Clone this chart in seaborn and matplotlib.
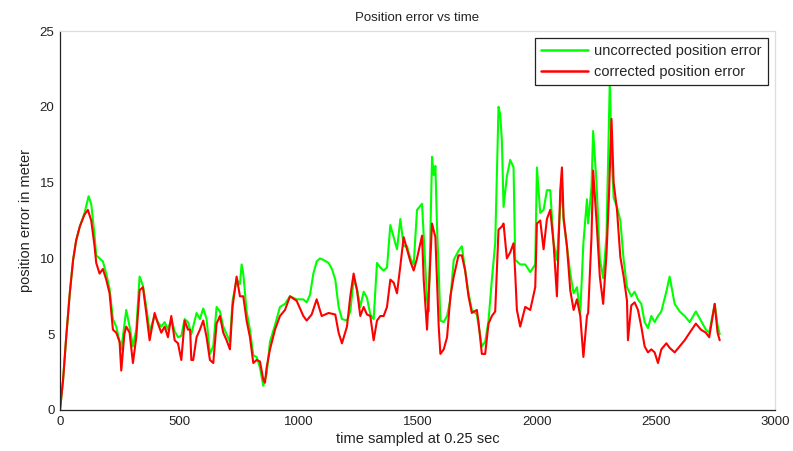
import matplotlib
matplotlib.use("Agg")
import matplotlib.pyplot as plt
import seaborn as sns
import pandas as pd

# ---- data ----
t_uncorrected = [0, 13, 26, 41, 55, 68, 83, 103, 120, 131, 145, 152, 166, 180, 194, 208, 222, 236, 257,
                 278, 292, 306, 320, 334, 348, 362, 376, 397, 411, 425, 439, 453, 467, 481, 495, 509, 523,
                 537, 551, 559, 573, 587, 601, 615, 629, 643, 657, 671, 685, 699, 713, 724, 741, 755, 762,
                 769, 783, 797, 811, 825, 839, 853, 867, 881, 902, 923, 944, 965, 993, 1021, 1035, 1049,
                 1063, 1077, 1091, 1105, 1127, 1141, 1155, 1169, 1183, 1204, 1218, 1232, 1246, 1260, 1274,
                 1288, 1302, 1316, 1330, 1344, 1358, 1372, 1386, 1400, 1414, 1428, 1442, 1456, 1470, 1484,
                 1498, 1519, 1526, 1540, 1547, 1561, 1568, 1575, 1582, 1589, 1596, 1610, 1624, 1638, 1652,
                 1672, 1686, 1700, 1714, 1728, 1749, 1770, 1784, 1798, 1812, 1826, 1840, 1847, 1854, 1861,
                 1875, 1889, 1903, 1910, 1931, 1952, 1973, 1994, 2001, 2015, 2029, 2043, 2057, 2071, 2085,
                 2099, 2106, 2113, 2127, 2141, 2155, 2169, 2183, 2196, 2211, 2216, 2230, 2237, 2251, 2265,
                 2279, 2293, 2307, 2314, 2323, 2337, 2351, 2365, 2379, 2397, 2411, 2425, 2439, 2453, 2467,
                 2481, 2495, 2509, 2523, 2544, 2558, 2579, 2600, 2621, 2642, 2668, 2689, 2710, 2724, 2747,
                 2759, 2768]
uncorrected = [0, 2.0, 4.8, 7.7, 9.9, 11.2, 12.1, 13.0, 14.1, 13.6, 11.5, 10.2, 10.0, 9.8, 9.0, 8.0, 6.0,
               5.5, 4.0, 6.6, 5.5, 4.2, 5.3, 8.8, 8.2, 6.8, 5.2, 6.2, 5.8, 5.5, 5.8, 5.3, 6.0, 5.2, 4.8,
               4.9, 6.0, 5.8, 5.0, 5.5, 6.4, 6.0, 6.7, 6.0, 3.7, 4.2, 6.8, 6.5, 5.5, 5.0, 4.5, 7.2, 8.6,
               8.3, 9.6, 9.0, 6.5, 5.3, 3.6, 3.5, 2.8, 1.6, 2.4, 4.5, 5.6, 6.8, 7.0, 7.5, 7.3, 7.3, 7.1,
               7.6, 9.0, 9.8, 10.0, 9.9, 9.7, 9.3, 8.6, 6.8, 6.0, 5.9, 6.5, 8.6, 8.0, 6.8, 7.8, 7.4, 6.3,
               6.0, 9.7, 9.4, 9.2, 9.4, 12.2, 11.4, 10.6, 12.6, 10.8, 10.8, 10.0, 9.6, 13.2, 13.6, 11.5,
               7.3, 6.5, 16.7, 15.5, 16.1, 12.0, 9.2, 5.9, 5.8, 6.2, 7.3, 9.9, 10.5, 10.8, 9.2, 7.7, 6.6,
               6.3, 4.2, 4.5, 5.9, 8.6, 11.0, 20.0, 19.5, 17.8, 13.4, 15.4, 16.5, 16.0, 9.9, 9.6, 9.6,
               9.1, 9.6, 16.0, 13.0, 13.2, 14.5, 14.5, 11.0, 9.9, 13.5, 14.8, 12.5, 10.8, 9.0, 7.7, 8.1,
               6.4, 11.0, 13.9, 12.3, 14.7, 18.4, 15.0, 10.0, 8.7, 11.5, 21.8, 17.0, 14.0, 13.4, 12.5,
               9.9, 8.1, 7.5, 7.8, 7.3, 7.0, 5.8, 5.4, 6.2, 5.8, 6.2, 6.5, 7.8, 8.8, 7.0, 6.5, 6.2, 5.8,
               6.5, 5.9, 5.3, 5.1, 7.0, 5.6, 5.0]

t_corrected = [0, 13, 26, 41, 55, 68, 83, 103, 117, 131, 145, 152, 166, 180, 194, 208, 222, 236, 250,
               257, 270, 278, 292, 306, 320, 334, 348, 362, 376, 397, 411, 425, 439, 453, 467, 481, 495,
               509, 523, 537, 546, 551, 559, 573, 587, 601, 615, 629, 643, 657, 671, 685, 699, 713, 724,
               741, 755, 769, 783, 797, 811, 825, 839, 853, 860, 867, 881, 902, 923, 944, 965, 993, 1021,
               1035, 1056, 1077, 1098, 1127, 1155, 1169, 1183, 1204, 1218, 1232, 1246, 1260, 1274, 1288,
               1302, 1316, 1330, 1344, 1358, 1372, 1386, 1400, 1414, 1428, 1442, 1456, 1470, 1484, 1498,
               1519, 1526, 1540, 1561, 1575, 1589, 1596, 1610, 1624, 1638, 1652, 1672, 1686, 1700, 1714,
               1728, 1749, 1756, 1770, 1784, 1798, 1812, 1826, 1840, 1854, 1861, 1875, 1889, 1903, 1910,
               1917, 1931, 1952, 1973, 1994, 2001, 2015, 2029, 2043, 2057, 2071, 2085, 2099, 2106, 2113,
               2127, 2141, 2155, 2169, 2183, 2196, 2211, 2216, 2230, 2237, 2251, 2265, 2279, 2293, 2303,
               2314, 2323, 2337, 2351, 2365, 2379, 2383, 2397, 2411, 2425, 2439, 2453, 2467, 2481, 2495,
               2509, 2523, 2544, 2558, 2579, 2600, 2621, 2642, 2668, 2689, 2710, 2724, 2747, 2759, 2768]
corrected = [0, 2.0, 4.8, 7.7, 9.9, 11.2, 12.1, 12.9, 13.2, 12.5, 10.8, 9.7, 9.0, 9.3, 8.6, 7.7, 5.3,
             5.1, 4.5, 2.6, 5.0, 5.5, 5.1, 3.1, 4.8, 7.9, 8.1, 6.4, 4.6, 6.4, 5.7, 5.1, 5.5, 4.8, 6.2,
             4.6, 4.4, 3.3, 5.9, 5.3, 5.3, 3.3, 3.3, 4.8, 5.3, 5.9, 4.8, 3.3, 3.1, 5.7, 6.2, 5.1, 4.6,
             4.0, 6.8, 8.8, 7.5, 7.5, 5.9, 4.8, 3.1, 3.3, 3.2, 2.0, 1.8, 2.8, 4.0, 5.3, 6.2, 6.6, 7.5,
             7.2, 6.2, 5.9, 6.3, 7.3, 6.2, 6.4, 6.3, 5.1, 4.4, 5.5, 7.5, 9.0, 7.9, 6.2, 6.8, 6.3, 6.2,
             4.6, 5.9, 6.2, 6.2, 6.8, 8.6, 8.4, 7.7, 9.5, 11.4, 10.6, 9.8, 9.2, 10.0, 11.5, 8.6, 5.3,
             12.3, 11.4, 5.5, 3.7, 4.0, 4.8, 7.5, 8.8, 10.2, 10.2, 9.2, 7.5, 6.4, 6.6, 5.8, 3.7, 3.7,
             5.7, 6.2, 6.5, 11.9, 12.1, 12.3, 10.0, 10.4, 11.0, 9.0, 6.6, 5.5, 6.8, 6.6, 8.1, 12.3,
             12.5, 10.6, 12.6, 13.2, 11.0, 7.5, 14.5, 16.0, 12.7, 10.8, 7.9, 6.6, 7.3, 6.2, 3.5, 6.2,
             6.4, 11.4, 15.8, 12.5, 8.8, 7.0, 10.3, 14.0, 19.2, 15.0, 13.2, 10.1, 8.8, 7.2, 4.6, 6.9,
             7.1, 6.6, 5.5, 4.2, 3.8, 4.0, 3.8, 3.1, 4.0, 4.4, 4.1, 3.8, 4.2, 4.6, 5.1, 5.7, 5.3, 5.1,
             4.8, 7.0, 5.1, 4.6]

series_names = ["uncorrected position error", "corrected position error"]
x_ticks = [0, 500, 1000, 1500, 2000, 2500, 3000]
y_ticks = [0, 5, 10, 15, 20, 25]

df = pd.concat([
    pd.DataFrame({"t": t_uncorrected, "err": uncorrected, "series": series_names[0]}),
    pd.DataFrame({"t": t_corrected, "err": corrected, "series": series_names[1]}),
], ignore_index=True)

# ---- styling ----
sns.set_style("white")
plt.rcParams["font.family"] = ["Liberation Sans", "DejaVu Sans"]

fig = plt.figure(figsize=(7.93, 4.51), dpi=100)
ax = fig.add_axes([60 / 793, 1 - 410 / 451, 715 / 793, 379 / 451])

sns.lineplot(data=df, x="t", y="err", hue="series", hue_order=series_names,
             palette=["#00ff00", "#ff0000"], estimator=None, sort=False,
             linewidth=1.5, ax=ax)

ax.set_xlim(0, 3000)
ax.set_ylim(0, 25)
ax.set_xticks(x_ticks)
ax.set_yticks(y_ticks)
ax.tick_params(direction="in", length=4, width=0.8, labelsize=9.5,
               colors="#222222", top=False, right=False, pad=4)
for side in ["left", "bottom"]:
    ax.spines[side].set_color("#222222")
    ax.spines[side].set_linewidth(0.9)
for side in ["top", "right"]:
    ax.spines[side].set_color("#dddddd")
    ax.spines[side].set_linewidth(0.9)

ax.set_title("Position error vs time", fontsize=9.5, color="#222222", pad=7)
ax.set_xlabel("time sampled at 0.25 sec", fontsize=10.5, color="#222222", labelpad=3)
ax.set_ylabel("position error in meter", fontsize=10.5, color="#222222", labelpad=5)

leg = ax.legend(loc="upper right", fontsize=10.5, frameon=True, fancybox=False,
                edgecolor="#222222", framealpha=1, borderpad=0.4, labelspacing=0.45,
                handlelength=3.2, handletextpad=0.45, borderaxespad=0.5)
leg.get_frame().set_linewidth(0.9)
for line in leg.get_lines():
    line.set_linewidth(1.8)

fig.savefig("out.png", dpi=100, facecolor="white")
